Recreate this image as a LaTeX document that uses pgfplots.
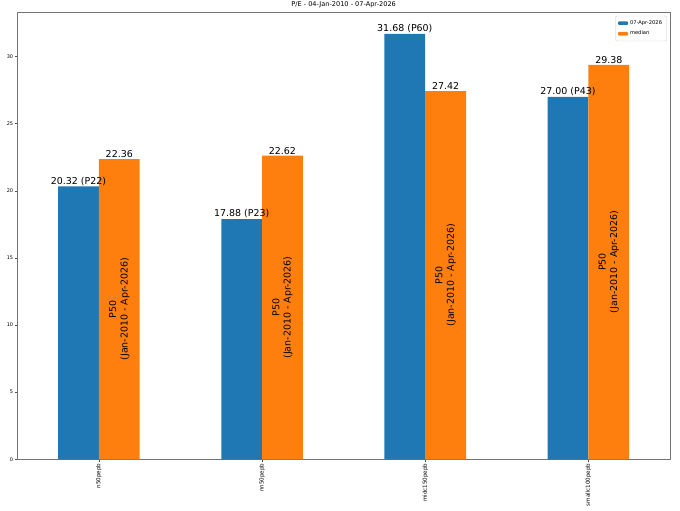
\documentclass[border=0pt]{standalone}
\usepackage{fontspec}
\setmainfont{DejaVu Sans}
\usepackage{pgfplots}
\usepackage{pgfplotstable}
\pgfplotsset{compat=1.18}
\usetikzlibrary{calc}
\definecolor{cblue}{HTML}{1F77B4}
\definecolor{corange}{HTML}{FF7F0E}
\pgfplotstableread{
x cur label median
0 20.32 {20.32 (P22)} 22.36
1 17.88 {17.88 (P23)} 22.62
2 31.68 {31.68 (P60)} 27.42
3 27.00 {27.00 (P43)} 29.38
}\pedata
\begin{document}
\begin{tikzpicture}
\begin{axis}[
  scale only axis,
  width=652.7bp, height=446.6bp,
  xmin=-0.5, xmax=3.5,
  ymin=0, ymax=33.264,
  xtick={0,1,2,3},
  xticklabels={n50pepb,nn50pepb,midc150pepb,smallc100pepb},
  x tick label style={rotate=90, anchor=east, font=\fontsize{5.6}{6.5}\selectfont, inner sep=1.5bp},
  ytick={0,5,10,15,20,25,30},
  y tick label style={font=\fontsize{5}{6}\selectfont, inner sep=1.5bp},
  /pgf/number format/assume math mode=true,
  tick align=outside,
  xtick pos=lower, ytick pos=left,
  major tick length=2.5bp,
  tick style={black!70, line width=0.4bp},
  axis line style={black!55, line width=0.6bp},
  title={P/E - 04-Jan-2010 - 07-Apr-2026},
  title style={font=\fontsize{6.6}{7.5}\selectfont, at={(0.5,1)}, anchor=south, yshift=-3bp, inner sep=1.5bp},
  legend style={at={(0.995,0.993)}, anchor=north east, font=\fontsize{5.2}{6.2}\selectfont,
    draw=black!20, rounded corners=1bp, inner sep=2.5bp, row sep=1.2bp,
    cells={anchor=west}},
  legend image code/.code={\fill[#1] (0bp,-1.8bp) rectangle (10bp,1.8bp);},
  every node near coord/.append style={font=\fontsize{9.5}{11}\selectfont, inner sep=1bp, black},
]
\addplot[ybar, bar width=0.25, bar shift=0, fill=cblue, draw=none,
  nodes near coords={\pgfplotspointmeta}, point meta=explicit symbolic]
  table[x expr=\thisrow{x}-0.125, y=cur, meta=label] {\pedata};
\addlegendentry{07-Apr-2026}
\addplot[ybar, bar width=0.25, bar shift=0, fill=corange, draw=none,
  nodes near coords, point meta=y,
  nodes near coords style={/pgf/number format/.cd, fixed, fixed zerofill, precision=2}]
  table[x expr=\thisrow{x}+0.125, y=median] {\pedata};
\addlegendentry{median}
\addplot[draw=none, mark=none, forget plot,
  nodes near coords={P50\\(Jan-2010 - Apr-2026)},
  every node near coord/.style={anchor=center, rotate=90, align=center, font=\fontsize{9.5}{11.5}\selectfont, black}]
  table[x expr=\thisrow{x}+0.125, y expr=\thisrow{median}/2] {\pedata};
\end{axis}
\pgfresetboundingbox
\path ($(current axis.south west)+(-17.3bp,-51.7bp)$) rectangle ($(current axis.north east)+(10bp,12.7bp)$);
\end{tikzpicture}
\end{document}
